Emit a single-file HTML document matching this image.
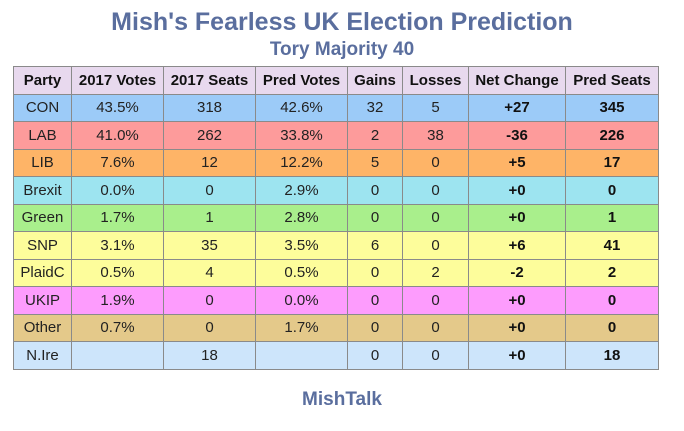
<!DOCTYPE html>
<html><head><meta charset="utf-8"><style>
body{margin:0;width:684px;height:431px;background:#fff;font-family:"Liberation Sans",Arial,sans-serif;position:relative;overflow:hidden}
.t{position:absolute;left:0;width:684px;text-align:center;color:#5a6e9e;font-weight:bold}
table{position:absolute;left:13px;top:66px;border-collapse:collapse;font-size:15px;color:#222}
td,th{border:1px solid #8a8a8a;text-align:center;padding:0;height:26.5px}
th{background:#e8d9ee;font-weight:bold;color:#111}
td.b{font-weight:bold;color:#111}
</style></head><body>
<div class="t" style="top:8px;font-size:25px">Mish's Fearless UK Election Prediction</div>
<div class="t" style="top:39px;font-size:19px">Tory Majority 40</div>
<table id="tbl">
<colgroup><col style="width:58px"><col style="width:92px"><col style="width:92px"><col style="width:92px"><col style="width:55px"><col style="width:66px"><col style="width:97px"><col style="width:93px"></colgroup>
<thead><tr><th>Party</th><th>2017 Votes</th><th>2017 Seats</th><th>Pred Votes</th><th>Gains</th><th>Losses</th><th>Net Change</th><th>Pred Seats</th></tr></thead>
<tbody id="tb"></tbody></table>
<div class="t" style="top:389px;font-size:19px">MishTalk</div>
<script>
const parties=["CON","LAB","LIB","Brexit","Green","SNP","PlaidC","UKIP","Other","N.Ire"];
const votes2017=["43.5%","41.0%","7.6%","0.0%","1.7%","3.1%","0.5%","1.9%","0.7%",""];
const seats2017=["318","262","12","0","1","35","4","0","0","18"];
const predVotes=["42.6%","33.8%","12.2%","2.9%","2.8%","3.5%","0.5%","0.0%","1.7%",""];
const gains=["32","2","5","0","0","6","0","0","0","0"];
const losses=["5","38","0","0","0","0","2","0","0","0"];
const netChange=["+27","-36","+5","+0","+0","+6","-2","+0","+0","+0"];
const predSeats=["345","226","17","0","1","41","2","0","0","18"];
const colors=["#9ccbf8","#fd9b9b","#feb467","#9de4f0","#a9ef8c","#fdfd9b","#fdfd9b","#fd9cfd","#e4c98a","#cde5fb"];
const tb=document.getElementById('tb');
parties.forEach((p,i)=>{
  const tr=document.createElement('tr');
  
  
  tr.style.background=colors[i];
  [p,votes2017[i],seats2017[i],predVotes[i],gains[i],losses[i],netChange[i],predSeats[i]].forEach((v,j)=>{
    const td=document.createElement('td');
    td.textContent=v;
    if(j>=6)td.className='b';
    tr.appendChild(td);
  });
  tb.appendChild(tr);
});
</script>
</body></html>
